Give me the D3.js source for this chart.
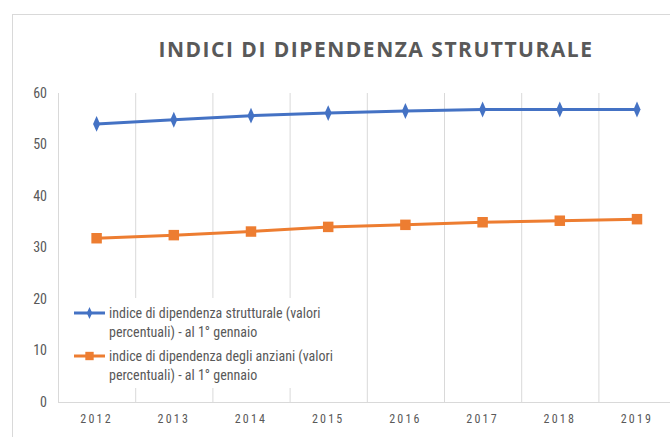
<!DOCTYPE html>
<html>
<head>
<meta charset="utf-8">
<script src="https://cdn.jsdelivr.net/npm/d3@7"></script>
<style>
  body { margin: 0; background: #fff; }
  text { font-family: "Liberation Sans Narrow", "Roboto Condensed", "Open Sans", sans-serif; }
</style>
</head>
<body>
<div id="chart"></div>
<script>
// data
var years = ["2012", "2013", "2014", "2015", "2016", "2017", "2018", "2019"];
var strutturale = [54.0, 54.8, 55.6, 56.1, 56.5, 56.8, 56.8, 56.8];
var anziani = [31.8, 32.4, 33.1, 34.0, 34.4, 34.9, 35.2, 35.5];
var yTicks = [0, 10, 20, 30, 40, 50, 60];
var seriesNames = [
    ["indice di dipendenza strutturale (valori", "percentuali) - al 1° gennaio"],
    ["indice di dipendenza degli anziani (valori", "percentuali) - al 1° gennaio"]
];
var title = "INDICI DI DIPENDENZA STRUTTURALE";

var W = 670, H = 437;
var margin = {top: 93, left: 58, bottom: 35};

var svg = d3.select("#chart").append("svg")
    .attr("width", W)
    .attr("height", H);

// chart frame
svg.append("rect")
    .attr("x", 12.5).attr("y", 14.5)
    .attr("width", W + 20).attr("height", H + 20)
    .attr("fill", "#fff")
    .attr("stroke", "#d9d9d9");

svg.append("text")
    .attr("x", 376).attr("y", 57)
    .attr("text-anchor", "middle")
    .attr("fill", "#595959")
    .style("font-family", "'Open Sans', sans-serif")
    .style("font-weight", "bold")
    .style("font-size", "21px")
    .style("letter-spacing", "1.5px")
    .text(title);

//scales
var x = d3.scaleBand()
    .domain(years)
    .range([margin.left, margin.left + 8 * 77.2]);

var y = d3.scaleLinear()
    .domain([0, 60])
    .range([H - margin.bottom, margin.top]);

// vertical gridlines at category boundaries
var grid = svg.append("g");
grid.selectAll("line")
    .data(years)
    .enter().append("line")
    .attr("x1", function(d){ return x(d) + 0.5; })
    .attr("x2", function(d){ return x(d) + 0.5; })
    .attr("y1", y(60))
    .attr("y2", y(0))
    .attr("stroke", "#d9d9d9")
    .attr("stroke-width", 1);

// axes
var xAxis = d3.axisBottom(x).tickSize(0).tickPadding(12);
var yAxis = d3.axisLeft(y).tickValues(yTicks).tickSize(0).tickPadding(11);

var gx = svg.append("g")
    .attr("transform", "translate(0," + (y(0) + 0.5) + ")")
    .call(xAxis);
gx.select(".domain").attr("stroke", "#d9d9d9").attr("d", "M" + margin.left + ",0H" + (W + 10));
gx.selectAll("text")
    .attr("fill", "#595959")
    .style("font-size", "12px")
    .style("letter-spacing", "2.2px");

var gy = svg.append("g")
    .attr("transform", "translate(" + margin.left + ",0)")
    .call(yAxis);
gy.select(".domain").remove();
gy.selectAll("text")
    .attr("fill", "#595959")
    .style("font-size", "14px");

// lines
var line = d3.line()
    .x(function(d, i){ return x(years[i]) + x.bandwidth() / 2; })
    .y(function(d){ return y(d); });

var colors = ["#4472c4", "#ed7d31"];
var series = [strutturale, anziani];
var symbols = [d3.symbolDiamond, d3.symbolSquare];
var symbolSizes = [60, 110];

series.forEach(function(values, s){
    svg.append("path")
        .datum(values)
        .attr("fill", "none")
        .attr("stroke", colors[s])
        .attr("stroke-width", 3)
        .attr("d", line);

    svg.selectAll(".pt" + s)
        .data(values)
        .enter().append("path")
        .attr("class", "pt" + s)
        .attr("transform", function(d, i){
            return "translate(" + (x(years[i]) + x.bandwidth() / 2) + "," + y(d) + ")" +
                (s === 0 ? " scale(0.85,1.1)" : "");
        })
        .attr("d", d3.symbol().type(symbols[s]).size(symbolSizes[s]))
        .attr("fill", colors[s]);
});

// legend
var legend = svg.append("g");
legend.append("rect")
    .attr("x", 70).attr("y", 298)
    .attr("width", 270).attr("height", 90)
    .attr("fill", "#fff");

var legendY = [313, 356];
seriesNames.forEach(function(lines, s){
    var g = legend.append("g").attr("transform", "translate(0," + legendY[s] + ")");
    g.append("line")
        .attr("x1", 74).attr("x2", 105)
        .attr("stroke", colors[s])
        .attr("stroke-width", 3);
    g.append("path")
        .attr("transform", "translate(89.5,0)" + (s === 0 ? " scale(0.8,1)" : ""))
        .attr("d", d3.symbol().type(symbols[s]).size(s === 0 ? 40 : 70))
        .attr("fill", colors[s]);
    lines.forEach(function(t, k){
        g.append("text")
            .attr("x", 109)
            .attr("y", k * 19.5)
            .attr("dy", "0.35em")
            .attr("fill", "#595959")
            .style("font-size", "14px")
            .text(t);
    });
});
</script>
</body>
</html>
